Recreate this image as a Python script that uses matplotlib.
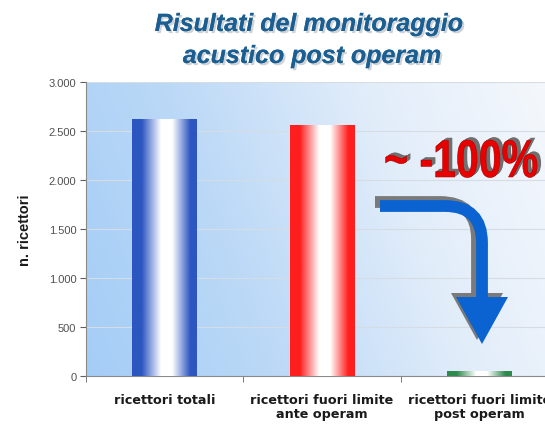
import matplotlib
matplotlib.use('Agg')
import matplotlib.pyplot as plt
import matplotlib.patheffects as pe
from matplotlib.colors import LinearSegmentedColormap
from matplotlib.font_manager import FontProperties
from matplotlib.path import Path
from matplotlib.patches import PathPatch, Polygon
from matplotlib.textpath import TextPath
from matplotlib.ticker import FuncFormatter, FixedLocator
from matplotlib.transforms import Affine2D
import numpy as np

plt.rcParams['font.family'] = ['Liberation Sans', 'DejaVu Sans']

# data
categories = ['ricettori totali',
              'ricettori fuori limite\nante operam',
              'ricettori fuori limite\npost operam']
values = [2620, 2560, 50]
bar_colors = ['#2c56c0', '#ff1e1e', '#2f8a4e']
y_ticks = [0, 500, 1000, 1500, 2000, 2500, 3000]

W, H = 545, 427
fig = plt.figure(figsize=(W / 100, H / 100), dpi=100)
fig.patch.set_facecolor('white')
ax = fig.add_axes([86 / W, 1 - 377 / H, 472 / W, 294 / H])

# plot area gradient: blue on the left, almost white at the upper right
gx, gy = np.meshgrid(np.linspace(0, 1, 200), np.linspace(0, 1, 200))
t = np.clip(0.85 * gx + 0.2 * gy, 0, 1)
bg_cmap = LinearSegmentedColormap.from_list(
    'bg', [(0, '#a4cdf6'), (0.35, '#bcd9f7'), (0.7, '#e2edfa'), (1, '#f3f7fc')])
ax.imshow(t, cmap=bg_cmap, extent=[0, 1, 0, 1], origin='lower',
          transform=ax.transAxes, aspect='auto', zorder=0)

x = np.arange(len(categories))
bars = ax.bar(x, values, width=0.41, color='none', zorder=3)
grad = np.linspace(0, 1, 256).reshape(1, -1)
for b, c in zip(bars, bar_colors):
    cmap = LinearSegmentedColormap.from_list(
        'b', [(0, c), (0.15, c), (0.45, 'white'), (0.62, 'white'),
              (0.9, c), (1, c)])
    ax.imshow(grad, cmap=cmap, aspect='auto', zorder=3,
              extent=[b.get_x(), b.get_x() + b.get_width(), 0, b.get_height()])

ax.set_xlim(-0.5, 2.5)
ax.set_ylim(0, 3000)
ax.set_yticks(y_ticks)
ax.yaxis.set_major_formatter(
    FuncFormatter(lambda v, p: '{:,.0f}'.format(v).replace(',', '.')))
ax.grid(axis='y', color='#d6dce4', linewidth=0.8, zorder=1)
ax.set_axisbelow(True)

ax.set_xticks(x)
ax.set_xticklabels(categories, fontsize=9.2, fontweight='bold',
                   color='#1a1a1a', family='DejaVu Sans', linespacing=1.15)
ax.tick_params(axis='x', length=0, pad=12)
ax.xaxis.set_minor_locator(FixedLocator([-0.5, 0.5, 1.5, 2.5]))
ax.tick_params(axis='x', which='minor', length=4, color='#606060')
ax.tick_params(axis='y', labelsize=8, labelcolor='#505050', length=4,
               color='#606060', pad=3)
for s in ['top', 'right']:
    ax.spines[s].set_visible(False)
for s in ['left', 'bottom']:
    ax.spines[s].set_color('#8a8a8a')

ax.set_ylabel('n. ricettori', fontsize=10.5, fontweight='bold',
              color='#1a1a1a', labelpad=12)

title_style = dict(ha='center', va='baseline', fontsize=18, fontweight='bold',
                   style='italic', color='#1b5f92',
                   path_effects=[pe.withSimplePatchShadow(
                       offset=(1.5, -1.5), shadow_rgbFace='#a0a8b0',
                       alpha=0.5), pe.Normal()])
fig.text(309 / W, 1 - 32 / H, 'Risultati del monitoraggio', **title_style)
fig.text(312 / W, 1 - 64 / H, 'acustico post operam', **title_style)

# figure pixel coordinates, y measured from the top
px = Affine2D().scale(1 / W, -1 / H).translate(0, 1) + fig.transFigure

# "~ -100%" drawn as a condensed 3D text
fp = FontProperties(family='Liberation Sans', weight='bold')
big = TextPath((0, 0), '~ -100%', size=53, prop=fp)
for k in np.linspace(4, 0.5, 8):
    tr = Affine2D().scale(0.775, -1).translate(384 + k, 178 - k * 0.7) + px
    fig.patches.append(PathPatch(big, facecolor='#6f6f6f', edgecolor='none',
                                 transform=tr))
tr = Affine2D().scale(0.775, -1).translate(384, 178) + px
fig.patches.append(PathPatch(big, facecolor='#e80000', edgecolor='#b00000',
                             lw=0.4, transform=tr))


def draw_arrow(dx, dy, color):
    verts = [(380 + dx, 207 + dy), (445 + dx, 207 + dy), (482 + dx, 207 + dy),
             (482 + dx, 244 + dy), (482 + dx, 302 + dy)]
    codes = [Path.MOVETO, Path.LINETO, Path.CURVE3, Path.CURVE3, Path.LINETO]
    fig.patches.append(PathPatch(Path(verts, codes), facecolor='none',
                                 edgecolor=color, lw=8.5, capstyle='butt',
                                 transform=px))
    fig.patches.append(Polygon([(456 + dx, 298 + dy), (508 + dx, 298 + dy),
                                (482 + dx, 345 + dy)], closed=True,
                               facecolor=color, edgecolor='none', transform=px))


draw_arrow(-5, -4, '#7a7a7a')
draw_arrow(0, 0, '#0a63d0')

fig.savefig('out.png', dpi=100)
